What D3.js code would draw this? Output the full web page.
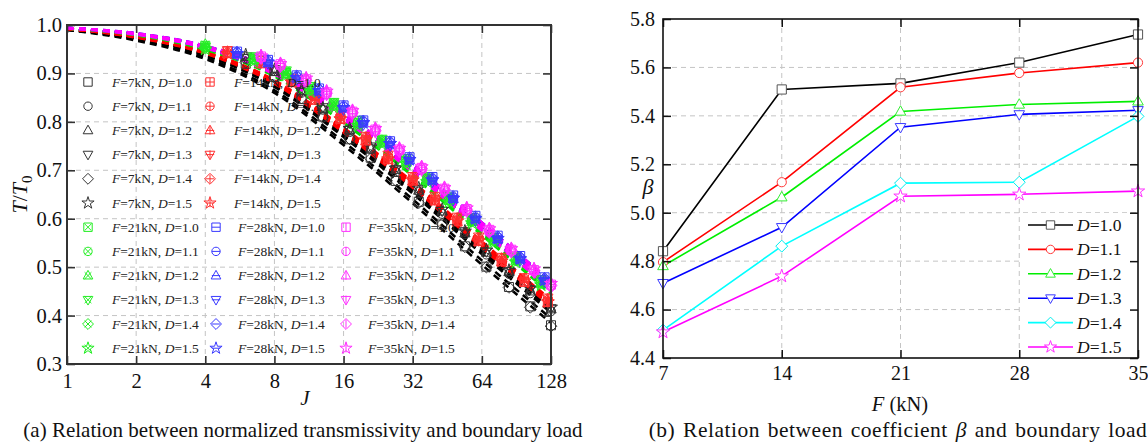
<!DOCTYPE html>
<html><head><meta charset="utf-8">
<script src="https://cdn.jsdelivr.net/npm/d3@7"></script>
<style>
body{margin:0;background:#fff}
</style></head><body>
<svg id="chart" width="1148" height="444"></svg>
<script>
// ---- data: panel (a) ----
const jFit = [1, 2, 4, 8, 16, 32, 64, 128]
const jTicks = [1, 2, 4, 8, 16, 32, 64, 128]
const tTicks = [0.3, 0.4, 0.5, 0.6, 0.7, 0.8, 0.9, 1.0]
const loads = [7, 14, 21, 28, 35]
const dLabels = ["1.0", "1.1", "1.2", "1.3", "1.4", "1.5"]

const jF7 = [6, 8, 10.5, 13, 17, 21, 27, 34, 43, 54, 67, 84, 104, 128]
const jF14 = [5, 7, 9.5, 12, 15.5, 20, 25, 32, 40, 50, 62, 78, 98, 124]
const jF21 = [4, 6.5, 9, 11.5, 14.5, 18.5, 23.5, 30, 37, 46, 58, 72, 90, 116]
const jF28 = [5.5, 7.5, 10, 12.5, 16, 19.5, 25.5, 31, 39, 48, 60, 75, 94, 120]
const jF35 = [7, 8.5, 11, 13.5, 17.5, 22, 28, 35, 44, 55, 69, 86, 108, 128]

const fitF7 = [
  [0.990, 0.968, 0.930, 0.860, 0.752, 0.632, 0.505, 0.385],
  [0.991, 0.972, 0.937, 0.872, 0.769, 0.652, 0.527, 0.406],
  [0.991, 0.973, 0.938, 0.874, 0.772, 0.656, 0.531, 0.411],
  [0.991, 0.973, 0.939, 0.877, 0.775, 0.660, 0.535, 0.415],
  [0.990, 0.970, 0.933, 0.865, 0.759, 0.640, 0.514, 0.394],
  [0.992, 0.974, 0.941, 0.879, 0.778, 0.664, 0.540, 0.419]]
const ptsF7 = [
  [0.920, 0.893, 0.847, 0.811, 0.764, 0.726, 0.678, 0.635, 0.588, 0.543, 0.501, 0.459, 0.419, 0.380],
  [0.930, 0.905, 0.860, 0.825, 0.779, 0.744, 0.697, 0.656, 0.610, 0.568, 0.526, 0.486, 0.446, 0.409],
  [0.934, 0.903, 0.863, 0.826, 0.783, 0.745, 0.701, 0.658, 0.615, 0.570, 0.530, 0.490, 0.450, 0.413],
  [0.932, 0.909, 0.862, 0.830, 0.784, 0.749, 0.702, 0.662, 0.616, 0.574, 0.532, 0.492, 0.454, 0.415],
  [0.923, 0.891, 0.849, 0.809, 0.765, 0.724, 0.679, 0.633, 0.589, 0.542, 0.500, 0.458, 0.417, 0.378],
  [0.938, 0.907, 0.866, 0.828, 0.786, 0.748, 0.704, 0.663, 0.619, 0.574, 0.535, 0.493, 0.456, 0.417]]

const fitF14 = [
  [0.992, 0.975, 0.942, 0.882, 0.782, 0.668, 0.544, 0.423],
  [0.992, 0.976, 0.944, 0.884, 0.785, 0.672, 0.549, 0.428],
  [0.992, 0.974, 0.941, 0.879, 0.778, 0.664, 0.540, 0.419],
  [0.992, 0.976, 0.945, 0.886, 0.788, 0.676, 0.553, 0.432],
  [0.992, 0.976, 0.944, 0.884, 0.785, 0.672, 0.549, 0.428],
  [0.992, 0.975, 0.942, 0.882, 0.782, 0.668, 0.544, 0.423]]
const ptsF14 = [
  [0.945, 0.922, 0.883, 0.846, 0.807, 0.762, 0.724, 0.679, 0.639, 0.596, 0.555, 0.513, 0.470, 0.429],
  [0.942, 0.928, 0.888, 0.853, 0.812, 0.769, 0.729, 0.686, 0.645, 0.602, 0.561, 0.519, 0.477, 0.435],
  [0.940, 0.919, 0.880, 0.844, 0.804, 0.760, 0.721, 0.677, 0.636, 0.593, 0.552, 0.510, 0.468, 0.426],
  [0.948, 0.930, 0.891, 0.855, 0.815, 0.771, 0.732, 0.688, 0.647, 0.604, 0.563, 0.521, 0.479, 0.437],
  [0.944, 0.926, 0.886, 0.850, 0.810, 0.766, 0.727, 0.683, 0.642, 0.599, 0.558, 0.516, 0.474, 0.432],
  [0.941, 0.923, 0.882, 0.847, 0.806, 0.763, 0.723, 0.680, 0.638, 0.595, 0.554, 0.512, 0.471, 0.428]]

const fitF21 = [
  [0.993, 0.980, 0.952, 0.898, 0.805, 0.696, 0.575, 0.453],
  [0.993, 0.981, 0.953, 0.901, 0.808, 0.700, 0.579, 0.457],
  [0.993, 0.979, 0.950, 0.896, 0.802, 0.692, 0.570, 0.449],
  [0.994, 0.982, 0.954, 0.903, 0.811, 0.704, 0.583, 0.462],
  [0.993, 0.980, 0.952, 0.898, 0.805, 0.696, 0.575, 0.453],
  [0.993, 0.979, 0.949, 0.894, 0.798, 0.688, 0.566, 0.445]]
const ptsF21 = [
  [0.957, 0.930, 0.901, 0.868, 0.836, 0.798, 0.760, 0.719, 0.682, 0.640, 0.597, 0.557, 0.516, 0.469],
  [0.954, 0.933, 0.904, 0.872, 0.839, 0.802, 0.763, 0.723, 0.685, 0.644, 0.601, 0.560, 0.520, 0.473],
  [0.960, 0.927, 0.898, 0.865, 0.832, 0.795, 0.756, 0.716, 0.678, 0.637, 0.593, 0.553, 0.512, 0.465],
  [0.955, 0.935, 0.906, 0.874, 0.841, 0.804, 0.765, 0.725, 0.688, 0.646, 0.603, 0.563, 0.522, 0.475],
  [0.952, 0.929, 0.900, 0.867, 0.835, 0.797, 0.759, 0.718, 0.681, 0.639, 0.596, 0.556, 0.515, 0.468],
  [0.950, 0.925, 0.896, 0.862, 0.830, 0.792, 0.754, 0.713, 0.676, 0.634, 0.591, 0.551, 0.510, 0.463]]

const fitF28 = [
  [0.994, 0.983, 0.957, 0.908, 0.818, 0.712, 0.592, 0.470],
  [0.994, 0.982, 0.956, 0.906, 0.815, 0.708, 0.588, 0.466],
  [0.994, 0.982, 0.954, 0.903, 0.811, 0.704, 0.583, 0.462],
  [0.993, 0.981, 0.953, 0.901, 0.808, 0.700, 0.579, 0.457],
  [0.994, 0.982, 0.956, 0.906, 0.815, 0.708, 0.588, 0.466],
  [0.994, 0.982, 0.954, 0.903, 0.811, 0.704, 0.583, 0.462]]
const ptsF28 = [
  [0.945, 0.928, 0.896, 0.869, 0.834, 0.803, 0.760, 0.727, 0.686, 0.648, 0.606, 0.565, 0.523, 0.479],
  [0.943, 0.925, 0.893, 0.866, 0.831, 0.800, 0.757, 0.724, 0.682, 0.644, 0.602, 0.561, 0.519, 0.475],
  [0.940, 0.922, 0.890, 0.863, 0.828, 0.797, 0.754, 0.721, 0.679, 0.641, 0.599, 0.558, 0.516, 0.472],
  [0.938, 0.920, 0.887, 0.860, 0.825, 0.794, 0.751, 0.718, 0.676, 0.638, 0.596, 0.555, 0.513, 0.469],
  [0.944, 0.927, 0.895, 0.868, 0.833, 0.802, 0.759, 0.726, 0.684, 0.646, 0.604, 0.563, 0.521, 0.477],
  [0.941, 0.923, 0.891, 0.864, 0.829, 0.798, 0.755, 0.722, 0.680, 0.642, 0.600, 0.559, 0.517, 0.473]]

const fitF35 = [
  [0.994, 0.982, 0.954, 0.903, 0.811, 0.704, 0.583, 0.462],
  [0.993, 0.981, 0.953, 0.901, 0.808, 0.700, 0.579, 0.457],
  [0.994, 0.983, 0.957, 0.908, 0.818, 0.712, 0.592, 0.470],
  [0.993, 0.980, 0.952, 0.898, 0.805, 0.696, 0.575, 0.453],
  [0.994, 0.982, 0.954, 0.903, 0.811, 0.704, 0.583, 0.462],
  [0.994, 0.982, 0.956, 0.906, 0.815, 0.708, 0.588, 0.466]]
const ptsF35 = [
  [0.935, 0.919, 0.888, 0.861, 0.821, 0.784, 0.743, 0.705, 0.662, 0.620, 0.577, 0.536, 0.494, 0.464],
  [0.932, 0.915, 0.884, 0.857, 0.817, 0.780, 0.739, 0.701, 0.658, 0.616, 0.573, 0.532, 0.490, 0.460],
  [0.938, 0.922, 0.892, 0.865, 0.825, 0.788, 0.747, 0.709, 0.666, 0.624, 0.581, 0.540, 0.498, 0.468],
  [0.930, 0.913, 0.882, 0.855, 0.815, 0.778, 0.737, 0.699, 0.656, 0.614, 0.571, 0.530, 0.488, 0.457],
  [0.933, 0.917, 0.886, 0.859, 0.819, 0.782, 0.741, 0.703, 0.660, 0.618, 0.575, 0.534, 0.492, 0.462],
  [0.936, 0.920, 0.890, 0.863, 0.823, 0.786, 0.745, 0.707, 0.664, 0.622, 0.579, 0.538, 0.496, 0.466]]

// ---- data: panel (b) ----
const loadsB = [7, 14, 21, 28, 35]
const betaTicks = [4.4, 4.6, 4.8, 5.0, 5.2, 5.4, 5.6, 5.8]
const betaD10 = [4.841, 5.509, 5.534, 5.620, 5.736]
const betaD11 = [4.796, 5.126, 5.518, 5.577, 5.620]
const betaD12 = [4.780, 5.064, 5.418, 5.447, 5.460]
const betaD13 = [4.709, 4.940, 5.353, 5.406, 5.423]
const betaD14 = [4.515, 4.862, 5.122, 5.126, 5.398]
const betaD15 = [4.507, 4.738, 5.068, 5.076, 5.089]

const FONT = '"Liberation Serif", "Times New Roman", serif'
const svg = d3.select('#chart').attr('font-family', FONT)
const shapes = ['square', 'circle', 'up', 'down', 'diamond', 'star']

function shapePath(shape, r) {
  if (shape === 'square') return `M${-r},${-r}H${r}V${r}H${-r}Z`
  if (shape === 'circle') return `M${r},0A${r},${r} 0 1,1 ${-r},0A${r},${r} 0 1,1 ${r},0Z`
  if (shape === 'up') return `M0,${-1.25 * r}L${1.15 * r},${0.8 * r}L${-1.15 * r},${0.8 * r}Z`
  if (shape === 'down') return `M0,${1.25 * r}L${1.15 * r},${-0.8 * r}L${-1.15 * r},${-0.8 * r}Z`
  if (shape === 'diamond') return `M0,${-1.3 * r}L${1.3 * r},0L0,${1.3 * r}L${-1.3 * r},0Z`
  return d3.symbol(d3.symbolStar, r * r * 2.6)()
}
function innerPath(kind, r) {
  if (kind === 'plus') return `M${-r},0H${r}M0,${-r}V${r}`
  if (kind === 'x') return `M${-0.8 * r},${-0.8 * r}L${0.8 * r},${0.8 * r}M${-0.8 * r},${0.8 * r}L${0.8 * r},${-0.8 * r}`
  if (kind === 'h') return `M${-r},0H${r}`
  if (kind === 'v') return `M0,${-r}V${r}`
  return ''
}

// =================== panel (a) ===================
const ax = { l: 67, r: 551, t: 25, b: 364 }
const xJ = d3.scaleLog().base(2).domain([1, 128]).range([ax.l, ax.r])
const yT = d3.scaleLinear().domain([0.3, 1.0]).range([ax.b, ax.t])

const gA = svg.append('g')
// grid
gA.selectAll('.gx').data(jTicks.slice(1, -1)).enter().append('line')
  .attr('x1', d => xJ(d)).attr('x2', d => xJ(d)).attr('y1', ax.t).attr('y2', ax.b)
  .attr('stroke', '#c4c4c4').attr('stroke-dasharray', '5,4')
gA.selectAll('.gy').data(tTicks.slice(1, -1)).enter().append('line')
  .attr('x1', ax.l).attr('x2', ax.r).attr('y1', d => yT(d)).attr('y2', d => yT(d))
  .attr('stroke', '#c4c4c4').attr('stroke-dasharray', '5,4')

const groups = [
  { F: 7, fit: fitF7, pts: ptsF7, js: jF7, line: '#000', mark: '#333', inner: '' },
  { F: 14, fit: fitF14, pts: ptsF14, js: jF14, line: '#ff0000', mark: '#ff3030', inner: 'plus' },
  { F: 21, fit: fitF21, pts: ptsF21, js: jF21, line: '#00e000', mark: '#22ee22', inner: 'x' },
  { F: 28, fit: fitF28, pts: ptsF28, js: jF28, line: '#0000ff', mark: '#3a3aff', inner: 'h' },
  { F: 35, fit: fitF35, pts: ptsF35, js: jF35, line: '#ff00ff', mark: '#ff30ff', inner: 'v' }
]

const fitLine = d3.line().x((d, i) => xJ(jFit[i])).y(d => yT(d)).curve(d3.curveMonotoneX)
groups.forEach(g => {
  g.fit.forEach(vals => {
    gA.append('path').attr('d', fitLine(vals)).attr('fill', 'none')
      .attr('stroke', g.line).attr('stroke-width', 2.6).attr('stroke-dasharray', '7,5')
  })
})

function drawMarker(parent, x, y, shape, inner, color, r, fill) {
  const m = parent.append('g').attr('transform', `translate(${x},${y})`)
  m.append('path').attr('d', shapePath(shape, r)).attr('fill', fill)
    .attr('stroke', color).attr('stroke-width', 1)
  if (inner) m.append('path').attr('d', innerPath(inner, r)).attr('fill', 'none')
    .attr('stroke', color).attr('stroke-width', 1)
}

groups.forEach(g => {
  g.pts.forEach((vals, si) => {
    vals.forEach((v, i) => {
      drawMarker(gA, xJ(g.js[i]), yT(v), shapes[si], g.inner, g.mark, 4.5, 'none')
    })
  })
})

// legend (a)
const legPos = [
  { mx: 88, tx: 112, row0: 0 }, { mx: 210, tx: 234, row0: 0 },
  { mx: 88, tx: 112, row0: 6 }, { mx: 216, tx: 238, row0: 6 },
  { mx: 346, tx: 368, row0: 6 }]
groups.forEach((g, gi) => {
  const p = legPos[gi]
  dLabels.forEach((dl, si) => {
    const y = 82 + (p.row0 + si) * 24.2
    drawMarker(gA, p.mx, y, shapes[si], g.inner, g.mark, 4.2, 'none')
    const t = gA.append('text').attr('x', p.tx).attr('y', y + 4.5)
      .attr('font-size', 13.5).attr('fill', '#222')
    t.append('tspan').attr('font-style', 'italic').text('F')
    t.append('tspan').text(`=${loads[gi]}kN, `)
    t.append('tspan').attr('font-style', 'italic').text('D')
    t.append('tspan').text(`=${dl}`)
  })
})

// frame + ticks (a)
gA.append('rect').attr('x', ax.l).attr('y', ax.t).attr('width', ax.r - ax.l).attr('height', ax.b - ax.t)
  .attr('fill', 'none').attr('stroke', '#333').attr('stroke-width', 2)

const axA = [
  d3.axisBottom(xJ).tickValues(jTicks).tickFormat(d3.format('d')).tickSize(-8).tickPadding(9),
  d3.axisTop(xJ).tickValues(jTicks).tickFormat('').tickSize(-8),
  d3.axisLeft(yT).tickValues(tTicks).tickFormat(d3.format('.1f')).tickSize(-8).tickPadding(5),
  d3.axisRight(yT).tickValues(tTicks).tickFormat('').tickSize(-8)]
const axTr = [`translate(0,${ax.b})`, `translate(0,${ax.t})`, `translate(${ax.l},0)`, `translate(${ax.r},0)`]
axA.forEach((a, i) => {
  const g = gA.append('g').attr('transform', axTr[i]).call(a)
    .attr('font-family', FONT).attr('font-size', 20.5)
  g.select('.domain').remove()
  g.selectAll('line').attr('stroke', '#333').attr('stroke-width', 1.6)
  g.selectAll('text').attr('fill', '#111')
})

const yl = gA.append('text').attr('transform', `translate(27,${(ax.t + ax.b) / 2}) rotate(-90)`)
  .attr('text-anchor', 'middle').attr('font-size', 22).attr('fill', '#111')
yl.append('tspan').attr('font-style', 'italic').text('T')
yl.append('tspan').text('/')
yl.append('tspan').attr('font-style', 'italic').text('T')
yl.append('tspan').attr('font-size', 15).attr('dy', 5).text('0')

gA.append('text').attr('x', 305).attr('y', 405).attr('text-anchor', 'middle')
  .attr('font-size', 21).attr('font-style', 'italic').attr('fill', '#111').text('J')
gA.append('text').attr('x', 303).attr('y', 437).attr('text-anchor', 'middle')
  .attr('font-size', 21).attr('fill', '#111')
  .text('(a) Relation between normalized transmissivity and boundary load')

// =================== panel (b) ===================
const bx = { l: 663, r: 1138, t: 19, b: 358 }
const xF = d3.scaleLinear().domain([7, 35]).range([bx.l, bx.r])
const yB = d3.scaleLinear().domain([4.4, 5.8]).range([bx.b, bx.t])
const gB = svg.append('g')

gB.selectAll('.gx').data(loadsB.slice(1, -1)).enter().append('line')
  .attr('x1', d => xF(d)).attr('x2', d => xF(d)).attr('y1', bx.t).attr('y2', bx.b)
  .attr('stroke', '#c4c4c4').attr('stroke-dasharray', '5,4')
gB.selectAll('.gy').data(betaTicks.slice(1, -1)).enter().append('line')
  .attr('x1', bx.l).attr('x2', bx.r).attr('y1', d => yB(d)).attr('y2', d => yB(d))
  .attr('stroke', '#c4c4c4').attr('stroke-dasharray', '5,4')

const seriesB = [
  { d: '1.0', v: betaD10, c: '#000000', m: '#555555' },
  { d: '1.1', v: betaD11, c: '#ff0000', m: '#ff3a3a' },
  { d: '1.2', v: betaD12, c: '#00ee00', m: '#33ee33' },
  { d: '1.3', v: betaD13, c: '#0000ff', m: '#3a3aff' },
  { d: '1.4', v: betaD14, c: '#00ffff', m: '#00eeee' },
  { d: '1.5', v: betaD15, c: '#ff00ff', m: '#ff33ff' }]
const lineB = d3.line().x((d, i) => xF(loadsB[i])).y(d => yB(d))

// legend background (b)
gB.append('rect').attr('x', 1022).attr('y', 213).attr('width', 114).attr('height', 143).attr('fill', '#fff')

seriesB.forEach((s, si) => {
  gB.append('path').attr('d', lineB(s.v)).attr('fill', 'none').attr('stroke', s.c).attr('stroke-width', 1.6)
})
seriesB.forEach((s, si) => {
  s.v.forEach((v, i) => drawMarker(gB, xF(loadsB[i]), yB(v), shapes[si], '', s.m, 4.6, '#fff'))
  const y = 225 + si * 24.4
  gB.append('line').attr('x1', 1028).attr('x2', 1073).attr('y1', y).attr('y2', y)
    .attr('stroke', s.c).attr('stroke-width', 1.6)
  drawMarker(gB, 1050.5, y, shapes[si], '', s.m, 4.2, '#fff')
  const t = gB.append('text').attr('x', 1077).attr('y', y + 6).attr('font-size', 17.5).attr('fill', '#111')
  t.append('tspan').attr('font-style', 'italic').text('D')
  t.append('tspan').text(`=${s.d}`)
})

gB.append('rect').attr('x', bx.l).attr('y', bx.t).attr('width', bx.r - bx.l).attr('height', bx.b - bx.t)
  .attr('fill', 'none').attr('stroke', '#111').attr('stroke-width', 1.6)

const axB = [
  d3.axisBottom(xF).tickValues(loadsB).tickFormat(d3.format('d')).tickSize(-8).tickPadding(8),
  d3.axisTop(xF).tickValues(loadsB).tickFormat('').tickSize(-8),
  d3.axisLeft(yB).tickValues(betaTicks).tickFormat(d3.format('.1f')).tickSize(-8).tickPadding(8),
  d3.axisRight(yB).tickValues(betaTicks).tickFormat('').tickSize(-8)]
const bxTr = [`translate(0,${bx.b})`, `translate(0,${bx.t})`, `translate(${bx.l},0)`, `translate(${bx.r},0)`]
axB.forEach((a, i) => {
  const g = gB.append('g').attr('transform', bxTr[i]).call(a)
    .attr('font-family', FONT).attr('font-size', 20)
  g.select('.domain').remove()
  g.selectAll('line').attr('stroke', '#111').attr('stroke-width', 1.5)
  g.selectAll('text').attr('fill', '#111')
})

gB.append('text').attr('x', 648).attr('y', 194)
  .attr('text-anchor', 'middle').attr('font-size', 22).attr('font-style', 'italic').attr('fill', '#111').text('β')
const xl = gB.append('text').attr('x', 900).attr('y', 411).attr('text-anchor', 'middle')
  .attr('font-size', 20.5).attr('fill', '#111')
xl.append('tspan').attr('font-style', 'italic').text('F')
xl.append('tspan').text(' (kN)')
const cb = gB.append('text').attr('x', 898).attr('y', 437).attr('text-anchor', 'middle')
  .attr('font-size', 21.5).attr('letter-spacing', 0.5).attr('word-spacing', 2).attr('fill', '#111')
cb.append('tspan').text('(b) Relation between coefficient ')
cb.append('tspan').attr('font-style', 'italic').text('β')
cb.append('tspan').text(' and boundary load')
</script>
</body></html>
